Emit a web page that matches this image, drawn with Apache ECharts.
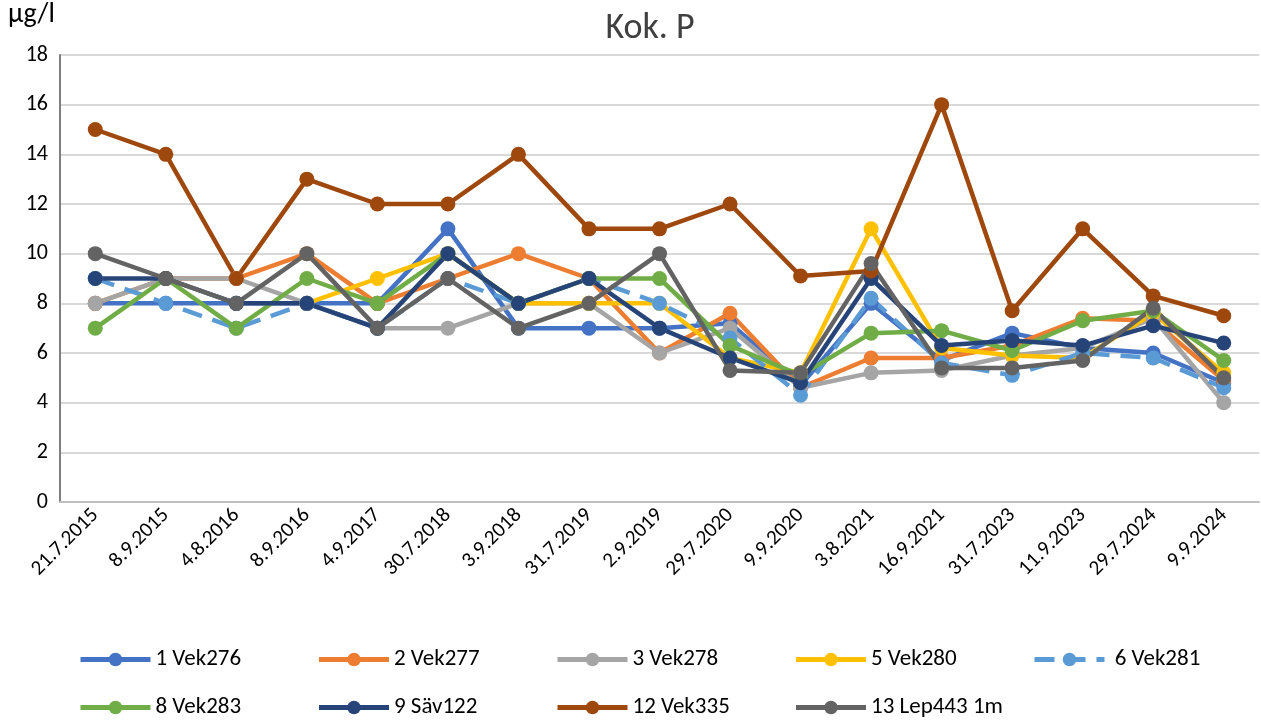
<!DOCTYPE html>
<html>
<head>
<meta charset="utf-8">
<script src="https://cdn.jsdelivr.net/npm/echarts@6/dist/echarts.min.js"></script>
<style>
  html, body { margin: 0; padding: 0; background: #fff; }
  #main { width: 1261px; height: 720px; }
</style>
</head>
<body>
<div id="main"></div>
<script>
// sampling dates
var dates = ['21.7.2015', '8.9.2015', '4.8.2016', '8.9.2016', '4.9.2017', '30.7.2018', '3.9.2018',
  '31.7.2019', '2.9.2019', '29.7.2020', '9.9.2020', '3.8.2021', '16.9.2021', '31.7.2023',
  '11.9.2023', '29.7.2024', '9.9.2024'];

var yTicks = [0, 2, 4, 6, 8, 10, 12, 14, 16, 18];

// Kok. P, µg/l
var vek276 = [8, 8, 8, 8, 8, 11, 7, 7, 7, 7.2, 4.7, 8.0, 5.7, 6.8, 6.2, 6.0, 4.8];
var vek277 = [8, 9, 9, 10, 8, 9, 10, 9, 6, 7.6, 4.6, 5.8, 5.8, 6.3, 7.4, 7.3, 4.9];
var vek278 = [8, 9, 9, 8, 7, 7, 8, 8, 6, 7.0, 4.6, 5.2, 5.3, 5.9, 6.2, 7.4, 4.0];
var vek280 = [null, null, null, 8, 9, 10, 8, 8, 8, 5.8, 5.2, 11, 6.2, 5.9, 5.8, 7.6, 5.2];
var vek281 = [9, 8, 7, 8, 7, 9, 8, 9, 8, 6.6, 4.3, 8.2, 5.6, 5.1, 6.0, 5.8, 4.6];
var vek283 = [7, 9, 7, 9, 8, 10, 8, 9, 9, 6.3, 5.1, 6.8, 6.9, 6.1, 7.3, 7.7, 5.7];
var sav122 = [9, 9, 8, 8, 7, 10, 8, 9, 7, 5.8, 4.8, 9.0, 6.3, 6.5, 6.3, 7.1, 6.4];
var vek335 = [15, 14, 9, 13, 12, 12, 14, 11, 11, 12, 9.1, 9.3, 16, 7.7, 11, 8.3, 7.5];
var lep443 = [10, 9, 8, 10, 7, 9, 7, 8, 10, 5.3, 5.2, 9.6, 5.4, 5.4, 5.7, 7.8, 5.0];

var names = ['1 Vek276', '2 Vek277', '3 Vek278', '5 Vek280', ' 6 Vek281',
  '8 Vek283', '9 Säv122', '12 Vek335', '13 Lep443 1m'];
var values = [vek276, vek277, vek278, vek280, vek281, vek283, sav122, vek335, lep443];
var colors = ['#4472C4', '#ED7D31', '#A5A5A5', '#FFC000', '#5B9BD5',
  '#70AD47', '#264478', '#9E480E', '#636363'];

var font = 'Carlito, Lato, "Liberation Sans", sans-serif';

var series = [];
var legends = [];
for (var i = 0; i < names.length; i++) {
  series.push({
    name: names[i],
    type: 'line',
    data: values[i],
    symbol: 'circle',
    symbolSize: 15,
    itemStyle: { color: colors[i] },
    lineStyle: { color: colors[i], width: 4.5, type: i === 4 ? [20, 11] : 'solid' },
    connectNulls: false,
    animation: false
  });
  // legend: 5 per row, fixed pitch like the excel legend
  legends.push({
    data: [names[i]],
    left: 78 + 238.5 * (i % 5),
    top: i < 5 ? 648 : 696,
    padding: 0,
    itemWidth: 70, itemHeight: 17, itemGap: 5,
    lineStyle: { width: 5 },
    textStyle: { fontFamily: font, fontSize: 23, color: '#000' }
  });
}

var option = {
  backgroundColor: '#fff',
  title: {
    text: 'Kok. P',
    left: 645,
    textAlign: 'center',
    top: 6,
    textStyle: { fontFamily: font, fontSize: 36, fontWeight: 'normal', color: '#404040' }
  },
  graphic: [{
    type: 'text', left: 8, top: 1,
    style: { text: 'µg/l', font: '28px ' + font, fill: '#000' }
  }],
  legend: legends,
  grid: { left: 60, right: 2, top: 55, bottom: 218 },
  xAxis: {
    type: 'category',
    boundaryGap: true,
    data: dates,
    axisLine: { lineStyle: { color: '#BFBFBF', width: 2 } },
    axisTick: { show: false },
    axisLabel: { rotate: 45, fontFamily: font, fontSize: 21, color: '#000', margin: 10 }
  },
  yAxis: {
    type: 'value',
    min: yTicks[0],
    max: yTicks[yTicks.length - 1],
    interval: 2,
    axisLine: { show: true, lineStyle: { color: '#7F7F7F', width: 2 } },
    axisTick: { show: false },
    splitLine: { lineStyle: { color: '#D9D9D9', width: 2 } },
    axisLabel: { fontFamily: font, fontSize: 22, color: '#000', margin: 12 }
  },
  series: series
};

var myChart = echarts.init(document.getElementById('main'));
myChart.setOption(option);
window.onresize = myChart.resize;
</script>
</body>
</html>
